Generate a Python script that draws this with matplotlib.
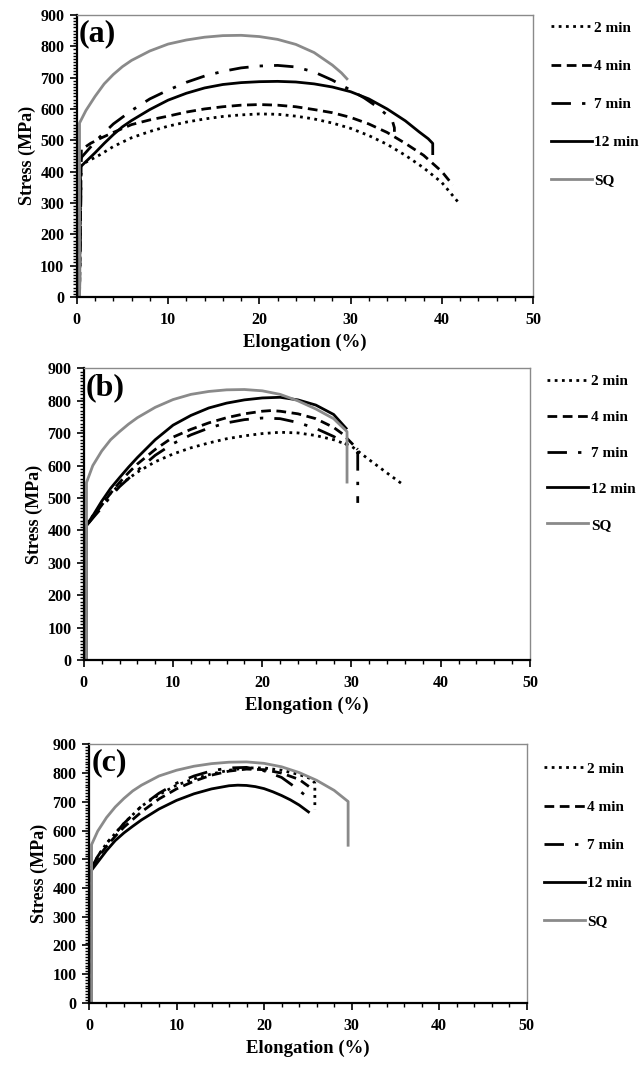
import matplotlib
matplotlib.use("Agg")
import matplotlib.pyplot as plt
from matplotlib.lines import Line2D
from matplotlib.ticker import MultipleLocator

# ---- data (elongation %, stress MPa) ----
# panel (a)
A_2MIN_X = [0.3, 0.4, 1, 2.5, 4, 6, 8, 10, 12, 14, 16, 18, 20, 22, 24, 26, 28, 30, 32, 34, 36, 38, 40, 41.8]
A_2MIN_Y = [0, 420, 430, 453, 480, 508, 528, 545, 558, 568, 576, 581, 584, 583, 577, 568, 555, 538, 515, 487, 452, 412, 365, 302]
A_4MIN_X = [0.3, 0.5, 1.5, 2.5, 4, 6, 8, 10, 12, 14, 16, 18, 20, 22, 24, 26, 28, 30, 32, 34, 36, 38, 40, 41.2]
A_4MIN_Y = [0, 470, 490, 505, 525, 550, 565, 577, 590, 600, 607, 612, 614, 612, 607, 598, 588, 573, 552, 525, 490, 452, 400, 357]
A_7MIN_X = [0.3, 0.5, 1.5, 2.5, 4, 6, 8, 10, 12, 14, 16, 18, 20, 22, 24, 26, 28, 30, 31.5, 33, 34, 34.6, 34.8, 34.8]
A_7MIN_Y = [0, 445, 478, 510, 552, 595, 632, 660, 685, 705, 720, 731, 737, 739, 734, 718, 692, 660, 635, 605, 580, 560, 540, 527]
A_12MIN_X = [0.3, 0.4, 1, 2, 3, 4, 5, 6, 8, 10, 12, 14, 16, 18, 20, 22, 24, 26, 28, 30, 32, 34, 36, 37.5, 38.5, 39, 39]
A_12MIN_Y = [0, 415, 432, 460, 490, 518, 543, 563, 598, 628, 650, 667, 678, 684, 687, 688, 686, 680, 670, 655, 632, 600, 562, 527, 505, 490, 453]
A_SQ_X = [0.3, 0.3, 1, 2, 3, 4, 5, 6, 8, 10, 12, 14, 16, 18, 20, 22, 24, 26, 27, 28, 29, 29.7]
A_SQ_Y = [0, 555, 595, 640, 680, 710, 735, 755, 785, 807, 820, 829, 834, 835, 831, 822, 806, 780, 760, 740, 715, 693]

# panel (b)
B_2MIN_X = [0.3, 0.3, 1, 2, 3, 4, 6, 8, 10, 12, 14, 16, 18, 20, 22, 24, 26, 28, 30, 32, 34, 35.6]
B_2MIN_Y = [0, 420, 445, 480, 515, 540, 580, 612, 636, 655, 670, 683, 692, 699, 703, 701, 693, 680, 660, 618, 577, 545]
B_4MIN_X = [0.3, 0.3, 1, 2, 3, 4, 5, 6, 8, 10, 12, 14, 16, 18, 20, 21, 22, 24, 26, 28, 29, 30, 30.7]
B_4MIN_Y = [0, 415, 440, 478, 515, 548, 578, 605, 650, 688, 712, 732, 748, 760, 768, 770, 768, 760, 745, 718, 698, 670, 650]
B_7MIN_X = [0.3, 0.3, 1, 2, 3, 4, 5, 6, 8, 10, 12, 14, 16, 18, 20, 22, 24, 26, 28, 29.5, 30.7, 30.7]
B_7MIN_Y = [0, 415, 438, 470, 505, 535, 560, 585, 632, 668, 695, 716, 732, 742, 747, 745, 733, 715, 690, 665, 640, 485]
B_12MIN_X = [0.3, 0.3, 1, 2, 3, 4, 5, 6, 8, 10, 12, 14, 16, 18, 20, 22, 24, 26, 28, 29.5]
B_12MIN_Y = [0, 416, 445, 490, 530, 563, 595, 625, 680, 725, 755, 778, 793, 803, 809, 811, 803, 787, 758, 712]
B_SQ_X = [0.3, 0.3, 1, 2, 3, 4, 5, 6, 8, 10, 12, 14, 16, 18, 20, 22, 24, 26, 28, 29.5, 29.5]
B_SQ_Y = [0, 548, 600, 645, 680, 705, 728, 748, 780, 804, 820, 829, 834, 835, 831, 820, 800, 775, 745, 705, 545]

# panel (c)
C_2MIN_X = [0.3, 0.3, 1, 2, 3, 4, 6, 8, 10, 12, 14, 16, 18, 20, 22, 24, 25.4, 25.8, 25.8]
C_2MIN_Y = [0, 470, 510, 555, 590, 625, 685, 725, 758, 780, 797, 810, 818, 818, 810, 795, 780, 765, 673]
C_4MIN_X = [0.3, 0.3, 1, 2, 3, 4, 6, 8, 10, 12, 14, 16, 18, 20, 22, 24, 25.5]
C_4MIN_Y = [0, 470, 505, 545, 580, 612, 665, 710, 745, 772, 793, 807, 814, 812, 800, 778, 745]
C_7MIN_X = [0.3, 0.3, 1, 2, 3, 4, 6, 8, 10, 12, 14, 16, 18, 20, 22, 23.5, 24.6]
C_7MIN_Y = [0, 470, 510, 555, 590, 625, 685, 730, 765, 790, 808, 818, 820, 808, 785, 752, 725]
C_12MIN_X = [0.3, 0.3, 1, 2, 3, 4, 5, 6, 8, 10, 12, 14, 16, 17, 18, 19, 20, 21, 22, 23, 24, 25.2]
C_12MIN_Y = [0, 462, 490, 530, 565, 592, 615, 637, 675, 705, 728, 745, 756, 758, 757, 753, 746, 735, 722, 707, 689, 662]
C_SQ_X = [0.3, 0.3, 1, 2, 3, 4, 5, 6, 8, 10, 12, 14, 16, 18, 20, 22, 24, 26, 28, 29.6, 29.6]
C_SQ_Y = [0, 551, 598, 645, 682, 712, 738, 758, 790, 810, 824, 833, 838, 839, 834, 822, 802, 775, 740, 701, 544]

LABELS = ["2 min", "4 min", "7 min", "12 min", "SQ"]
PANEL_TAGS = ["(a)", "(b)", "(c)"]
X_TICKS = [0, 10, 20, 30, 40, 50]
Y_TICKS = [0, 100, 200, 300, 400, 500, 600, 700, 800, 900]

panels = [
    [(A_2MIN_X, A_2MIN_Y), (A_4MIN_X, A_4MIN_Y), (A_7MIN_X, A_7MIN_Y),
     (A_12MIN_X, A_12MIN_Y), (A_SQ_X, A_SQ_Y)],
    [(B_2MIN_X, B_2MIN_Y), (B_4MIN_X, B_4MIN_Y), (B_7MIN_X, B_7MIN_Y),
     (B_12MIN_X, B_12MIN_Y), (B_SQ_X, B_SQ_Y)],
    [(C_2MIN_X, C_2MIN_Y), (C_4MIN_X, C_4MIN_Y), (C_7MIN_X, C_7MIN_Y),
     (C_12MIN_X, C_12MIN_Y), (C_SQ_X, C_SQ_Y)],
]

styles = [
    dict(color="black", lw=2.0, ls=(0, (1, 1.6))),
    dict(color="black", lw=2.0, ls=(0, (3.5, 2))),
    dict(color="black", lw=2.0, ls=(0, (7, 4, 1.2, 4))),
    dict(color="black", lw=2.0, ls="-"),
    dict(color="#8a8a8a", lw=2.0, ls="-"),
]

# axes boxes in figure fraction [left, bottom, width, height]
boxes = [
    [0.120, 0.722, 0.713, 0.264],
    [0.131, 0.382, 0.697, 0.273],
    [0.139, 0.061, 0.684, 0.242],
]
legend_spacing = [1.6, 1.45, 1.6]
legend_top = [1.0, 1.0, 0.955]

plt.rcParams['font.family'] = ['Liberation Serif', 'DejaVu Serif']
plt.rcParams['font.weight'] = 'bold'

fig = plt.figure(figsize=(6.4, 10.68), dpi=100)

for k, curves in enumerate(panels):
    ax = fig.add_axes(boxes[k])
    for (xs, ys), st, lab in zip(curves, styles, LABELS):
        ax.plot(xs, ys, label=lab, solid_capstyle='butt', dash_capstyle='butt',
                solid_joinstyle='round', **st)

    ax.set_xlim(0, 50)
    ax.set_ylim(0, 900)
    ax.set_xticks(X_TICKS)
    ax.set_yticks(Y_TICKS)
    ax.xaxis.set_minor_locator(MultipleLocator(2))
    ax.yaxis.set_minor_locator(MultipleLocator(10))
    ax.tick_params(which='major', direction='out', length=5, width=1.2, labelsize=11.5, pad=4)
    ax.tick_params(axis='x', which='major', pad=6)
    ax.tick_params(which='minor', direction='out', length=3, width=1.0)
    for lbl in ax.get_xticklabels() + ax.get_yticklabels():
        lbl.set_fontweight('bold')

    for side in ['left', 'bottom']:
        ax.spines[side].set_color('black')
        ax.spines[side].set_linewidth(1.6)
    for side in ['top', 'right']:
        ax.spines[side].set_color('#8a8a8a')
        ax.spines[side].set_linewidth(1.0)

    ax.set_xlabel("Elongation (%)", fontsize=13.5, fontweight='bold', labelpad=4)
    ax.set_ylabel("Stress (MPa)", fontsize=13, fontweight='bold', labelpad=3)

    ax.text(0.005, 0.985, PANEL_TAGS[k], transform=ax.transAxes, ha='left', va='top',
            fontsize=23, fontweight='bold')

    handles = [Line2D([0], [0], **st) for st in styles]
    ax.legend(handles, LABELS, loc='upper left', bbox_to_anchor=(1.025, legend_top[k]),
              frameon=False, handlelength=2.7, handletextpad=0.15,
              labelspacing=legend_spacing[k], borderaxespad=0.0,
              prop={'family': 'Liberation Serif', 'weight': 'bold', 'size': 11})

fig.savefig("out.png", dpi=100)
